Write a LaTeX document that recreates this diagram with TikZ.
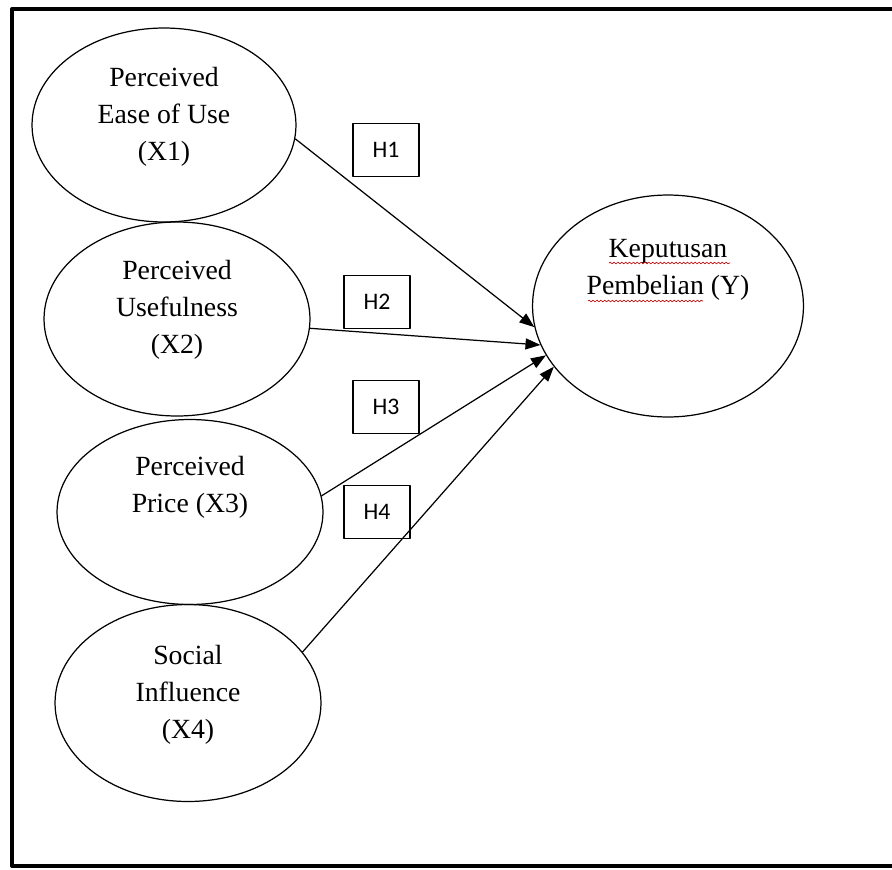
\documentclass[tikz,border=0pt]{standalone}
\usepackage{fontspec}
\setmainfont{Liberation Serif}
\newfontfamily\hypfont{Carlito}
\usetikzlibrary{shapes.geometric,arrows.meta,decorations.pathmorphing}

\begin{document}
\begin{tikzpicture}[x=0.02cm, y=-0.02cm, line join=round,
  var/.style={ellipse, draw, line width=0.7pt, inner sep=0pt, minimum width=5.32cm},
  txt/.style={align=center, inner sep=0pt, font=\fontsize{15.8}{21}\selectfont},
  hyp/.style={draw, line width=0.8pt, inner sep=0pt, minimum width=1.32cm,
    minimum height=1.06cm, font=\hypfont\fontsize{13.5}{16}\selectfont},
  link/.style={line width=0.7pt, -{Triangle[length=0.3cm,width=0.22cm]}},
  spell/.style={red!75!black, line width=0.35pt, decorate,
    decoration={snake, amplitude=0.5pt, segment length=2.2pt}}]
  \useasboundingbox (0,0) rectangle (892,869);
  % the frame
  \draw[line width=2.3pt] (12,9) rectangle (900,866);
  % the variables
  \node[var, minimum width=5.28cm, minimum height=3.88cm] (x1) at (164,125) {};
  \node[var, minimum height=3.88cm] (x2) at (177,319) {};
  \node[var, minimum height=3.70cm] (x3) at (190,512) {};
  \node[var, minimum height=3.94cm] (x4) at (188,703) {};
  \node[var, minimum width=5.42cm, minimum height=4.44cm] (y) at (668,306) {};
  \node[txt] (x1t) at ([yshift=0.16cm]x1.center) {Perceived\\Ease of Use\\(X1)};
  \node[txt] (x2t) at ([yshift=0.18cm]x2.center) {Perceived\\Usefulness\\(X2)};
  \node[txt] (x3t) at ([yshift=0.5cm]x3.center) {Perceived\\Price (X3)};
  \node[txt] (x4t) at ([yshift=0.16cm]x4.center) {Social\\Influence\\(X4)};
  \node[txt] (yt) at ([yshift=0.72cm]y.center) {Keputusan\\Pembelian (Y)};
  \draw[spell] (609,263) -- (730,263);
  \draw[spell] (588,301) -- (703,301);
  % the hypotheses
  \node[hyp] (h1) at (386,150) {H1};
  \node[hyp] (h2) at (377,302) {H2};
  \node[hyp] (h3) at (386,407) {H3};
  \node[hyp] (h4) at (377,512) {H4};
  \draw[link] (x1.354) -- (y.189);
  \draw[link] (x2.356) -- (y.197);
  \draw[link] (x3.7) -- (y.202);
  \draw[link] (x4.24) -- (y.208);
\end{tikzpicture}
\end{document}
